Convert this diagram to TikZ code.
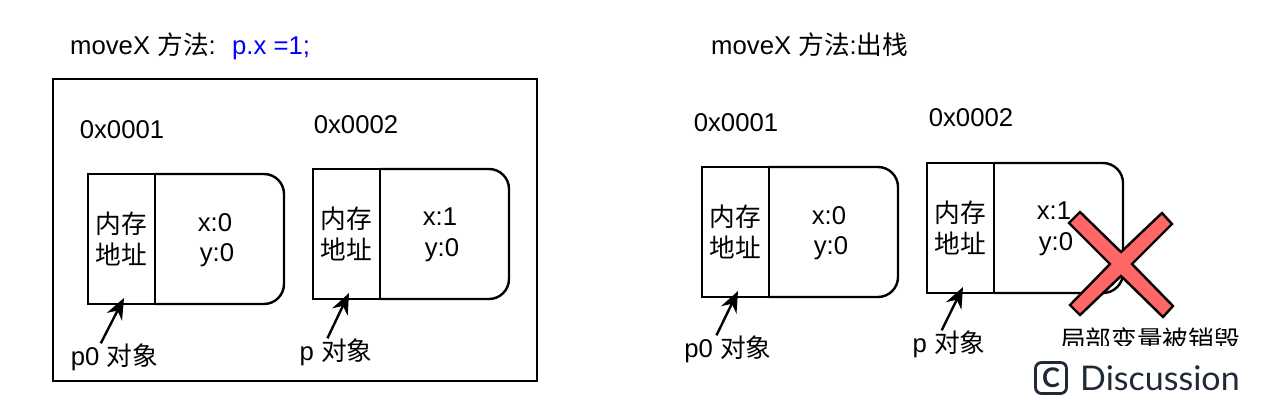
\documentclass[tikz,border=0pt]{standalone}
\usepackage{fontspec}
\setmainfont{Liberation Sans}
\newfontfamily\cjk{Noto Sans CJK SC}
\newfontfamily\brandfont{Lato}
\usepackage{tikz}
\usetikzlibrary{arrows.meta}
\definecolor{crossred}{HTML}{FF6666}
\definecolor{brandink}{HTML}{1F2937}
\tikzset{
    txt/.style={inner sep=0pt, font=\fontsize{25.7}{30.5}\selectfont, align=center},
    objline/.style={draw=black, line width=2.4pt},
    ptr/.style={line width=2.4pt, -{Stealth[length=21pt,width=17pt]}},
}

\begin{document}
\begin{tikzpicture}[x=1pt, y=-1pt]
    \useasboundingbox (0,0) rectangle (1267,410);
    \node[objline, minimum width=484pt, minimum height=302pt] (frame) at (295,230) {};
    \node[txt, anchor=base west] (titleA) at (70,54) {moveX {\cjk 方法}:};
    \node[txt, anchor=base west, text=blue] (codeA) at (232,54) {p.x =1;};
    \node[txt, anchor=base west] (titleB) at (711,54) {moveX {\cjk 方法}:{\cjk 出栈}};
    \foreach \n/\x/\y/\ax/\ay/\lx/\ly/\ang/\val/\lbl/\addr in {
        a/88/174/122/130/114.5/357/135/0/p0/0x0001,
        b/313/169/356/125/336/352/122/1/p/0x0002,
        c/702/167/736/123/728/349/130/0/p0/0x0001,
        d/927/163/971/118/949/344/118/1/p/0x0002}{
        \node[objline, minimum width=67pt, minimum height=130pt, inner sep=0pt, outer sep=0pt] (cell\n) at (\x+33.5,\y+65) {};
        \node[txt] at (cell\n) {\cjk 内存\\\cjk 地址};
        \draw[objline, rounded corners=20pt] (cell\n.north east) -- ++(129,0) -- ++(0,130) -- (cell\n.south east);
        \node[txt] (val\n) at (\x+127,\y+66) {x:\val\\ \hspace{4pt}y:0};
        \node[txt] (addr\n) at (\ax,\ay) {\addr};
        \node[txt] (lbl\n) at (\lx,\ly) {\lbl{} {\cjk 对象}};
        \coordinate (tip\n) at (\x+36,\y+124);
        \draw[ptr] (lbl\n.\ang) -- (tip\n);
    }
    % cross over the last object
    \draw[draw=black, fill=crossred, line width=2.4pt] (1080,212) -- (1121,252) -- (1162,213) -- (1172,224) -- (1132,264) -- (1173,306)
        -- (1163,317) -- (1121,276) -- (1080,315) -- (1070,305) -- (1110,264) -- (1069,223) -- cycle;
    \begin{scope}
        \clip (1040,320) rectangle (1267,345);
        \node[txt] (gone) at (1150,340) {\cjk 局部变量被销毁};
    \end{scope}
    \node[draw=brandink, line width=2.8pt, rounded corners=6pt, minimum size=31pt, inner sep=0pt] (badge) at (1051,378) {};
    \node[text=brandink, inner sep=0pt, font=\brandfont\bfseries\fontsize{27}{27}\selectfont] at (badge) {C};
    \node[text=brandink, inner sep=0pt, anchor=base west, font=\brandfont\fontsize{34}{34}\selectfont] (brand) at (1080,390) {Discussion};
\end{tikzpicture}
\end{document}
